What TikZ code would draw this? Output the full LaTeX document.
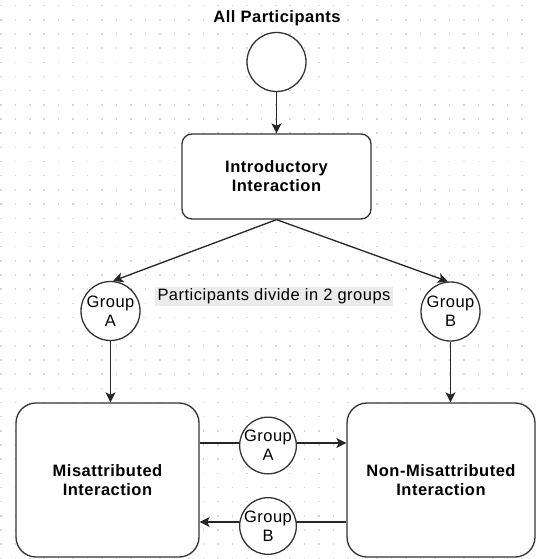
\documentclass[tikz,border=0pt]{standalone}
\usepackage{fontspec}
\setmainfont{Liberation Sans}[LetterSpace=3]
\usetikzlibrary{arrows.meta}
\begin{document}
\begin{tikzpicture}[x=1pt,y=-1pt,
  plain/.style={font=\fontsize{16.5}{19}\selectfont, align=center, text=black},
  heavy/.style={font=\fontsize{16.5}{19}\selectfont\bfseries, align=center, text=black},
  outline/.style={draw=black!80, line width=1.3pt, fill=white},
  roundbox/.style={outline, rectangle, rounded corners=#1, inner sep=0pt},
  disc/.style={outline, circle, inner sep=0pt, minimum size=#1},
  link/.style={draw=black!85, line width=1.3pt,
    -{Stealth[length=10pt,width=10pt,inset=2.5pt]}}]

% canvas and dotted grid
\useasboundingbox (0,0) rectangle (536,559);
\fill[white] (0,0) rectangle (536,559);
\foreach \i in {0,...,36} {
  \foreach \j in {0,...,39} {
    \fill[black!16] ({0.83+14.47*\i-0.75},{5.7+14.17*\j-0.75}) rectangle ++(1.5,1.5);
  }
}

% title and start point
\node[heavy] (title) at (277,18) {All Participants};
\node[disc=59pt] (start) at (276.5,62) {};

% introductory stage
\node[roundbox=10pt, minimum width=189pt, minimum height=85pt, heavy]
  (intro) at (276.5,176.5) {Introductory\\Interaction};

% the two groups
\node[disc=59pt, plain] (ga) at (110.5,311) {Group\\A};
\node[disc=59pt, plain] (gb) at (450.5,311.5) {Group\\B};
\node[plain, fill=black!8, minimum width=238pt, minimum height=19pt, inner sep=0pt]
  (split) at (274,296.5) {Participants divide in 2 groups};

% interaction conditions
\node[roundbox=20pt, minimum width=183pt, minimum height=154pt, heavy]
  (mis) at (107.5,480) {Misattributed\\Interaction};
\node[roundbox=20pt, minimum width=188pt, minimum height=154pt, heavy]
  (nonmis) at (441,480) {Non-Misattributed\\Interaction};

\coordinate (rowA) at (0,443);
\coordinate (rowB) at (0,522);

% connectors
\draw[link] (start.south) -- (intro.north);
\draw[link] (intro.south) -- (ga.85);
\draw[link] (intro.south) -- (gb.95);
\draw[link] (ga.south) -- (ga.south |- mis.north);
\draw[link] (gb.south) -- (gb.south |- nonmis.north);
\draw[link] (mis.east |- rowA) -- (nonmis.west |- rowA);
\draw[link] (nonmis.west |- rowB) -- (mis.east |- rowB);

% group labels on the crossover connectors
\node[disc=55pt, plain] (ma) at (268,445.5) {Group\\A};
\node[disc=54pt, plain] (mb) at (268,526) {Group\\B};
\end{tikzpicture}
\end{document}
